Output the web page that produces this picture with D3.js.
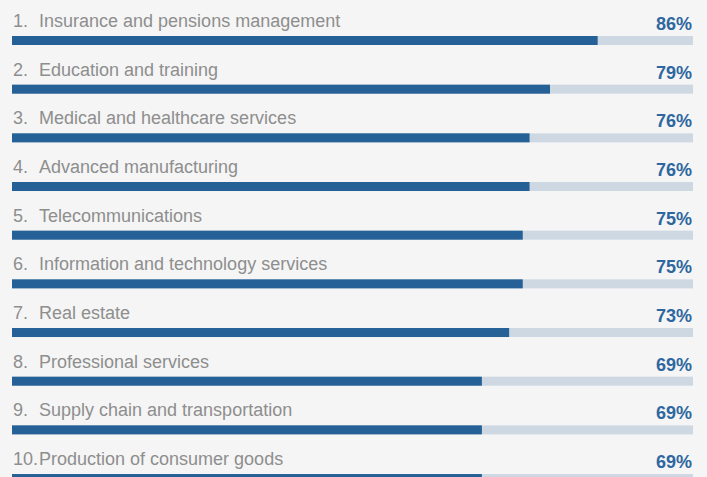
<!DOCTYPE html>
<html><head><meta charset="utf-8">
<script src="https://cdn.jsdelivr.net/npm/d3@7"></script>
<style>html,body{margin:0;padding:0;background:#f5f5f5;overflow:hidden}</style>
</head><body>
<svg id="c" width="707" height="477"></svg>
<script>
const ranks = ["1.","2.","3.","4.","5.","6.","7.","8.","9.","10."];
const categories = ["Insurance and pensions management","Education and training","Medical and healthcare services","Advanced manufacturing","Telecommunications","Information and technology services","Real estate","Professional services","Supply chain and transportation","Production of consumer goods"];
const values = [86,79,76,76,75,75,73,69,69,69];

const svg = d3.select("#c");
svg.append("rect").attr("width",707).attr("height",477).attr("fill","#f5f5f5");
const x = d3.scaleLinear().domain([0,100]).range([12,693]);
const y = d3.scaleBand().domain(categories).range([36, 36 + 48.67*10]);
const barH = 9;
const g = svg.selectAll("g.row").data(categories).join("g").attr("class","row");
g.append("rect").attr("x",x(0)).attr("y",d=>y(d)).attr("width",x(100)-x(0)).attr("height",barH).attr("fill","#cdd8e3");
g.append("rect").attr("x",x(0)).attr("y",d=>y(d)).attr("width",(d,i)=>x(values[i])-x(0)).attr("height",barH).attr("fill","#256096");
g.append("text").attr("x",13).attr("y",d=>y(d)-9).text((d,i)=>ranks[i])
  .attr("font-family","Liberation Sans, Arial, sans-serif").attr("font-size",18).attr("fill","#8e8e8e");
g.append("text").attr("x",39).attr("y",d=>y(d)-9).text(d=>d)
  .attr("font-family","Liberation Sans, Arial, sans-serif").attr("font-size",18).attr("fill","#8e8e8e");
g.append("text").attr("x",692).attr("y",d=>y(d)-6).attr("text-anchor","end").text((d,i)=>values[i]+"%")
  .attr("font-family","Liberation Sans, Arial, sans-serif").attr("font-size",18).attr("font-weight","bold").attr("fill","#2e67a0");
</script>
</body></html>
